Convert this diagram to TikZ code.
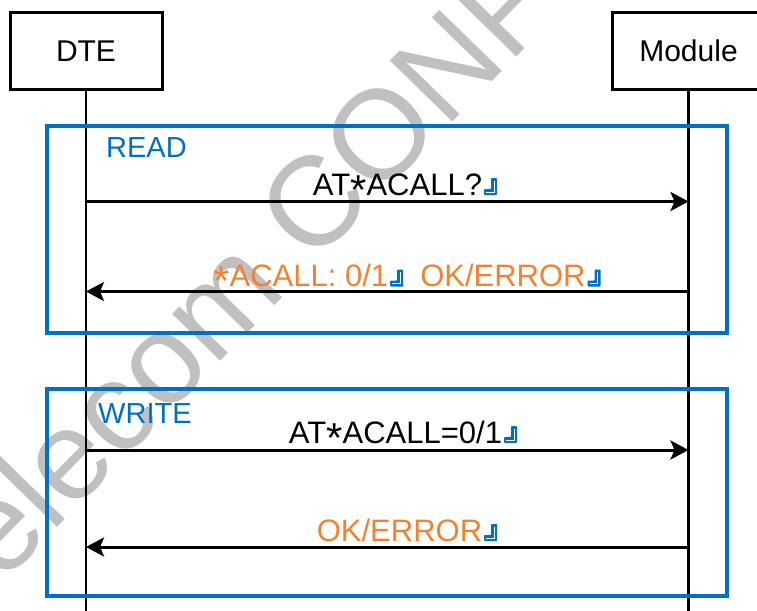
\documentclass[tikz,border=0pt]{standalone}
\usepackage{fontspec}
\setmainfont{Liberation Sans}
\usetikzlibrary{arrows.meta}
\definecolor{frameblue}{RGB}{0,112,192}
\definecolor{replyorange}{RGB}{240,130,50}
\definecolor{markgray}{RGB}{192,192,192}
% carriage-return mark used after each AT line
\newcommand\crmark{\hspace{2pt}\tikz[baseline=0pt,x=1pt,y=1pt]{%
  \fill[frameblue,rounded corners=0.8pt] (0,0) -- (13,0) -- (13,17) -- (7,17) -- (7,6) -- (0,6) -- cycle;
  \draw[white,line width=0.8pt] (10,14.5) -- (10,3) -- (2,3);}}
% centred asterisk of the AT command set
\newcommand\lowstar{\raisebox{-0.3em}{\scalebox{1.35}{*}}}
\begin{document}
\begin{tikzpicture}[x=1pt,y=-1pt,
  actor/.style={draw=black,line width=3pt,minimum width=152pt,minimum height=76pt,
    font=\fontsize{30}{36}\selectfont,inner sep=0pt},
  life/.style={line width=2.6pt},
  frame/.style={draw=frameblue,line width=3.2pt,minimum width=680pt,minimum height=207pt,inner sep=0pt},
  msg/.style={line width=3pt,-{Stealth[length=18pt,width=19pt,inset=4pt]}},
  lbl/.style={font=\fontsize{31}{37}\selectfont,anchor=base,inner sep=0pt},
  tag/.style={font=\fontsize{29}{35}\selectfont,text=frameblue,anchor=base west,inner sep=0pt}]
\useasboundingbox (0,0) rectangle (757,610);

% watermark
\node[font=\fontsize{127}{150}\selectfont,text=markgray,rotate=45.7,anchor=base west,inner sep=0pt]
  (wm) at (-42,630) {Telecom CONFIDENTIAL};

% participants and lifelines
\node[actor] (dte) at (86,51) {DTE};
\node[actor] (mod) at (688.5,51) {Module};
\coordinate (dteend) at (86,615);
\coordinate (modend) at (688.5,615);
\draw[life] (dte.south) -- (dteend);
\draw[life] (mod.south) -- (modend);

% groups
\node[frame] (read) at (387,229.5) {};
\node[frame] (write) at (387,492.5) {};
\node[tag] (readtag) at (106,157) {READ};
\node[tag] (writetag) at (98,423) {WRITE};

% message anchors on the lifelines
\coordinate (d1) at (86,201.5);  \coordinate (m1) at (688.5,201.5);
\coordinate (d2) at (86,291.5);  \coordinate (m2) at (688.5,291.5);
\coordinate (d3) at (86,450);    \coordinate (m3) at (688.5,450);
\coordinate (d4) at (86,547);    \coordinate (m4) at (688.5,547);

\draw[msg] (d1) -- (m1);
\draw[msg] (m2) -- (d2);
\draw[msg] (d3) -- (m3);
\draw[msg] (m4) -- (d4);

\node[lbl] (q1) at (405,195) {AT\lowstar ACALL?\crmark};
\node[lbl,text=replyorange] (r1) at (407,286.5) {\lowstar ACALL:\ 0/1\crmark\hspace{0.55em}OK/ERROR\crmark};
\node[lbl] (q2) at (403,443) {AT\lowstar ACALL=0/1\crmark};
\node[lbl,text=replyorange] (r2) at (407,541) {OK/ERROR\crmark};
\end{tikzpicture}
\end{document}
